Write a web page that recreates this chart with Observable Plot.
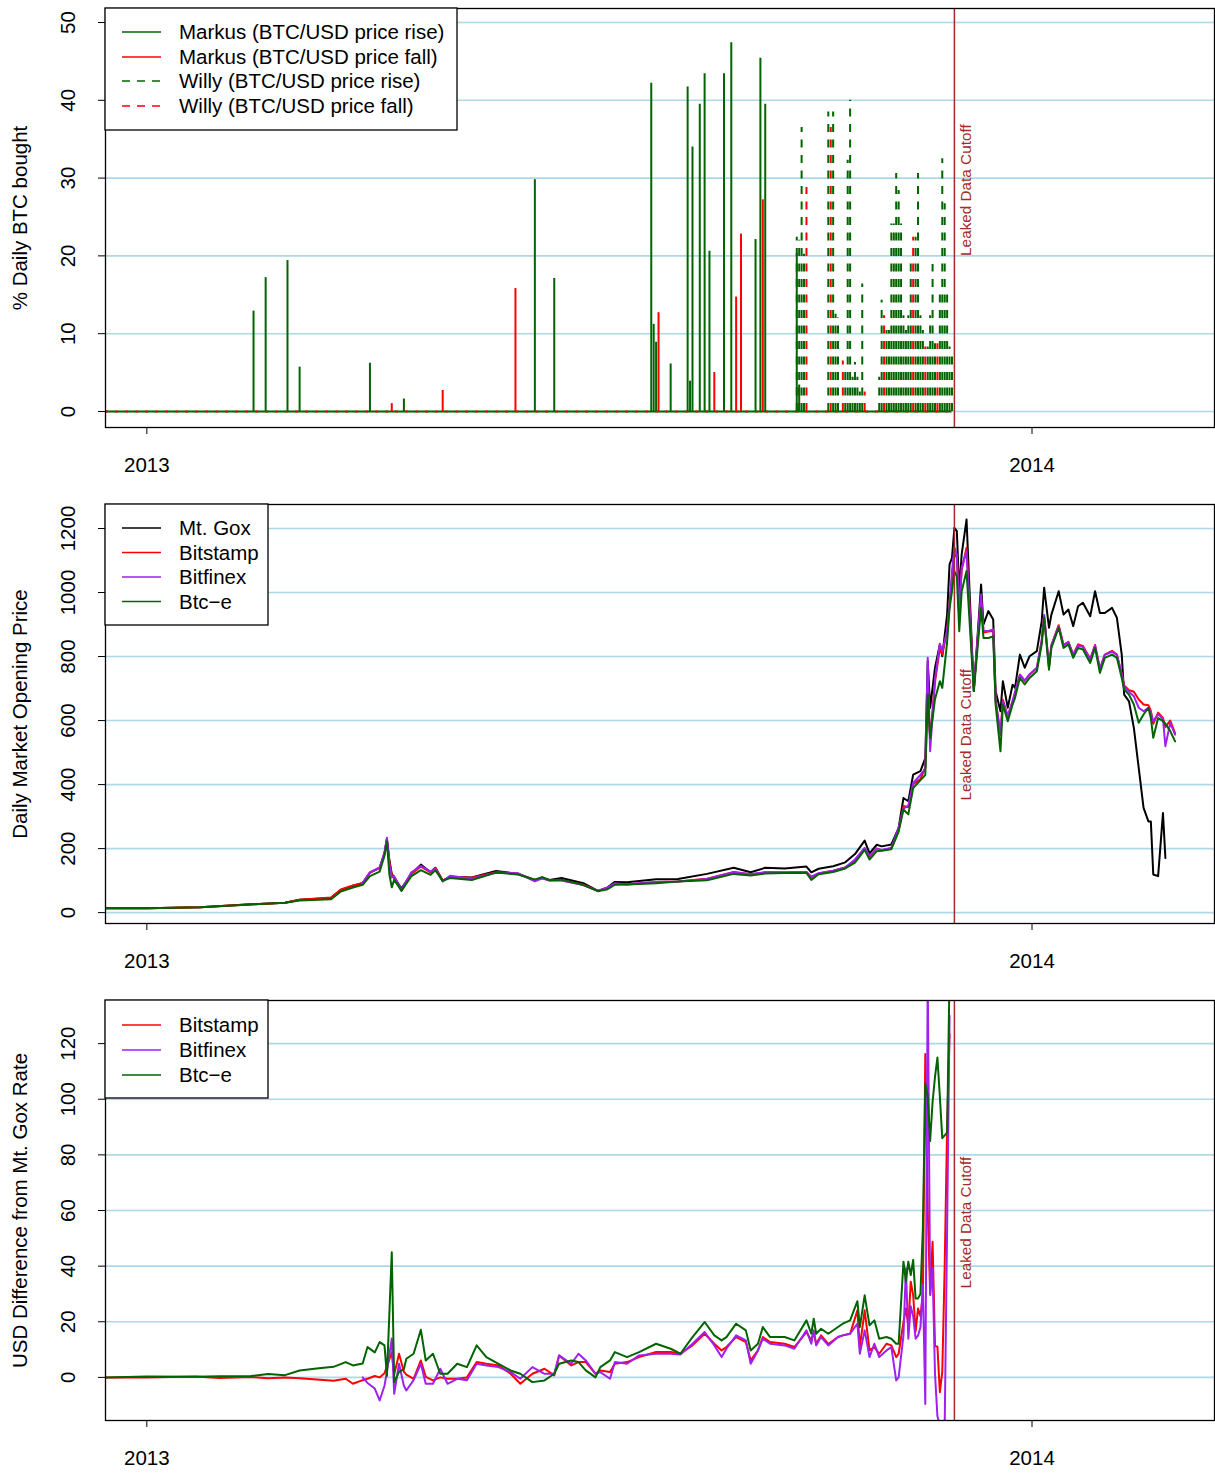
<!DOCTYPE html>
<html><head><meta charset="utf-8">
<script src="https://cdn.jsdelivr.net/npm/d3@7"></script>
<script src="https://cdn.jsdelivr.net/npm/@observablehq/plot@0.6"></script>
<style>
html,body{margin:0;padding:0;background:#fff;overflow:hidden;}
.panel{position:relative;width:1215px;}
.panel svg{display:block;max-width:none;}
.legend{position:absolute;left:0;top:0;}
</style></head><body>
<div id="chart"></div>
<script>
// ---------- Panel 1: % daily BTC bought ----------
const markusRiseDates = ["2013-02-14","2013-02-19","2013-02-28","2013-03-05","2013-04-03","2013-04-17","2013-06-10","2013-06-18","2013-07-28","2013-07-29","2013-07-30","2013-08-05","2013-08-12","2013-08-13","2013-08-14","2013-08-17","2013-08-19","2013-08-21","2013-08-27","2013-08-30","2013-09-09","2013-09-11","2013-09-13","2013-09-26","2013-09-27"];
const markusRiseValues = [12.9,17.2,19.4,5.7,6.2,1.6,29.8,17.1,42.2,11.2,8.9,6.1,41.7,3.9,34.0,39.5,43.4,20.6,43.4,47.4,22.1,45.4,39.5,20.3,3.4];
const markusFallDates = ["2013-04-12","2013-05-03","2013-06-02","2013-07-31","2013-08-23","2013-09-01","2013-09-03","2013-09-12"];
const markusFallValues = [1.0,2.7,15.8,12.7,5.0,14.7,22.8,27.2];
const willyRiseDates = ["2013-09-26","2013-09-27","2013-09-28","2013-09-29","2013-10-09","2013-10-11","2013-10-12","2013-10-13","2013-10-16","2013-10-17","2013-10-18","2013-10-19","2013-10-20","2013-10-21","2013-10-22","2013-10-23","2013-10-30","2013-10-31","2013-11-02","2013-11-03","2013-11-04","2013-11-05","2013-11-06","2013-11-07","2013-11-08","2013-11-09","2013-11-10","2013-11-11","2013-11-12","2013-11-14","2013-11-15","2013-11-16","2013-11-17","2013-11-19","2013-11-20","2013-11-21","2013-11-22","2013-11-24","2013-11-25","2013-11-26","2013-11-27","2013-11-28","2013-11-29"];
const willyRiseValues = [22.4,22,36.5,20.2,38.5,38.5,12.5,12,5,32.3,40,4.4,6.3,4.4,2.5,16.4,4.4,14.3,10.4,10.4,24.1,24.1,30.6,28.4,24.1,12.3,10.4,12.3,19.3,22.4,30.6,12.3,10.4,8.3,12.3,18.9,8.7,15.6,32.5,26.7,15,8.3,7.5];
const willyFallDates = ["2013-09-30","2013-10-10","2013-10-15","2013-10-24","2013-11-01","2013-11-13","2013-11-18","2013-11-23"];
const willyFallValues = [28.8,36.5,6.5,2.5,12.3,22.4,8.3,8.7];
const baselineRange = ["2012-12-15","2013-11-29"];

// ---------- Panel 2: daily market opening price ----------
const priceDates = ["2012-12-15","2013-01-01","2013-01-23","2013-02-13","2013-02-27","2013-03-05","2013-03-18","2013-03-22","2013-03-27","2013-03-31",
"2013-04-03","2013-04-07","2013-04-09","2013-04-10","2013-04-11","2013-04-12","2013-04-13","2013-04-16","2013-04-20","2013-04-24",
"2013-04-28","2013-04-30","2013-05-03","2013-05-06","2013-05-15","2013-05-25","2013-06-03","2013-06-10","2013-06-13","2013-06-16",
"2013-06-21","2013-06-30","2013-07-06","2013-07-10","2013-07-13","2013-07-18","2013-07-30","2013-08-08","2013-08-20","2013-08-31",
"2013-09-07","2013-09-13","2013-09-21","2013-09-30","2013-10-02","2013-10-05","2013-10-11","2013-10-16","2013-10-20","2013-10-24",
"2013-10-26","2013-10-29","2013-10-31","2013-11-04","2013-11-07","2013-11-09","2013-11-11","2013-11-13","2013-11-16","2013-11-18",
"2013-11-19","2013-11-20","2013-11-22","2013-11-24","2013-11-25","2013-11-27","2013-11-28","2013-11-29","2013-11-30","2013-12-01",
"2013-12-02","2013-12-03","2013-12-05","2013-12-08","2013-12-11","2013-12-12","2013-12-14","2013-12-16","2013-12-17","2013-12-19",
"2013-12-20","2013-12-22","2013-12-24","2013-12-25","2013-12-27","2013-12-29","2013-12-31","2014-01-03","2014-01-05","2014-01-06",
"2014-01-08","2014-01-09","2014-01-12","2014-01-14","2014-01-16","2014-01-18","2014-01-20","2014-01-22","2014-01-25","2014-01-27",
"2014-01-29","2014-01-31","2014-02-03","2014-02-05","2014-02-07","2014-02-08","2014-02-10","2014-02-12","2014-02-14","2014-02-16",
"2014-02-18","2014-02-19","2014-02-20","2014-02-22","2014-02-24","2014-02-25","2014-02-27","2014-03-01"];
const mtgoxPrice = [13.5,13.5,17,26,31,40,46,71,84,92,
125,140,185,230,165,121,110,75,121,150,
126,140,100,112,110,130,121,102,110,102,
108,92,68,79,96,95,104,105,121,140,
126,140,138,144,126,137,145,157,183,225,
185,212,207,213,265,358,348,431,442,483,
786,640,765,838,801,931,1088,1108,1202,1192,
1004,1119,1228,692,1025,900,942,916,692,629,
723,640,712,702,806,765,801,817,910,1015,
890,931,1004,931,947,895,957,968,926,1004,
936,936,952,921,806,681,660,577,452,327,
285,285,119,114,311,171,null,null];
const bitstampPrice = [13.5,13.5,17,26,31,40.5,47,72,85,93,
125,140,184,228,160,117,108,70,120,144,
126,140,99,112,109,126,122,101,107,101,
101,87,68,77,91,88,96,97,106,127,
119,126,125,127,110,122,131,141,163,201,
175,200,195,201,257,333,329,401,417,453,
672,545,720,826,806,880,965,1040,1120,1110,
952,1070,1140,700,985,875,878,880,665,555,
665,612,662,685,742,724,743,764,848,928,
768,836,898,836,846,806,838,833,793,836,
762,806,818,806,746,710,695,690,666,650,
648,630,590,625,608,580,600,560];
const bitfinexPrice = [null,null,null,null,null,null,null,null,null,92,
126,141,188,234,150,110,114,70,125,146,
128,137,97,115,106,125,123,98,107,100,
100,86,68,79,91,89,96,97,105,126,
121,126,126,127,112,123,131,141,166,202,
178,200,196,202,266,325,334,405,430,450,
796,504,730,840,817,880,960,1067,1140,1119,
930,1077,1129,700,994,880,880,885,660,560,
660,615,660,690,744,725,745,765,850,930,
770,835,895,835,845,805,835,830,790,835,
760,805,815,805,745,705,690,676,640,629,
640,625,598,620,605,520,593,556];
const btcePrice = [13.3,13.3,16.8,25.5,30.5,38,42,66,78,87,
114,128,178,222,120,79,103,68,113,133,
118,132,99,108,102,125,119,103,111,101,
103,86,67,73,87,88,92,97,101,121,
116,122,124,124,102,120,127,138,156,196,
166,192,193,198,253,322,307,389,414,430,
681,546,667,723,702,845,950,1004,1067,1050,
879,1004,1067,692,952,858,858,863,650,504,
650,598,650,671,733,713,733,754,838,921,
759,827,890,827,838,796,827,822,780,827,
749,796,806,796,733,697,681,650,593,619,
640,608,546,608,598,590,567,535];

// ---------- Panel 3: USD difference from Mt. Gox rate ----------
const diffDates = ["2012-12-15","2013-01-01","2013-01-21","2013-01-31","2013-02-13","2013-02-20","2013-02-27","2013-03-05","2013-03-12","2013-03-19",
"2013-03-24","2013-03-27","2013-03-31","2013-04-02","2013-04-05","2013-04-07","2013-04-09","2013-04-10","2013-04-12","2013-04-13",
"2013-04-15","2013-04-17","2013-04-18","2013-04-21","2013-04-24","2013-04-26","2013-04-29","2013-05-02","2013-05-05","2013-05-09",
"2013-05-13","2013-05-17","2013-05-21","2013-05-26","2013-05-31","2013-06-04","2013-06-09","2013-06-14","2013-06-18","2013-06-20",
"2013-06-25","2013-06-28","2013-07-01","2013-07-05","2013-07-07","2013-07-11","2013-07-13","2013-07-18","2013-07-23","2013-07-30",
"2013-08-05","2013-08-09","2013-08-14","2013-08-19","2013-08-23","2013-08-26","2013-08-28","2013-09-01","2013-09-05","2013-09-07",
"2013-09-10","2013-09-12","2013-09-15","2013-09-21","2013-09-25","2013-09-30","2013-10-02","2013-10-03","2013-10-04","2013-10-06",
"2013-10-09","2013-10-13","2013-10-15","2013-10-18","2013-10-21","2013-10-22","2013-10-24","2013-10-26","2013-10-28","2013-10-30",
"2013-11-02","2013-11-04","2013-11-06","2013-11-07","2013-11-09","2013-11-10","2013-11-11","2013-11-12","2013-11-13","2013-11-14",
"2013-11-15","2013-11-16","2013-11-17","2013-11-18","2013-11-19","2013-11-20","2013-11-21","2013-11-22","2013-11-23","2013-11-24",
"2013-11-25","2013-11-26","2013-11-27","2013-11-28"];
const bitstampDiff = [0,0,0.3,-0.2,0.1,-0.3,0,-0.3,-0.8,-1.2,
-0.5,-2.3,-1,-0.5,0.5,0,1.5,4,9,1,
8.5,2,1,-0.5,6.1,0.2,-1.1,0,-0.5,-0.5,
0,5.5,4.9,4.3,1.3,-2.3,1.3,3.1,0.7,7.9,
4.3,5.5,5.5,1.3,2.5,1.9,4.9,5.5,7.3,9.1,
9.1,8.5,11.5,15.7,12.1,9.7,10.9,14.5,12.7,6.1,
9.7,14.5,12.7,12.1,10.9,16.3,13.3,16.3,12,15.1,
12,14.5,15.1,15.7,24.1,10.9,24.1,9.7,10.9,8.5,
12.1,11.5,7.3,8.5,19.9,24.8,18.7,34.4,29.6,16.5,
24.8,22,29.6,116.3,60,30,48.8,11.3,11,-5.3,
2,40,90,123.5];
const bitfinexDiff = [null,null,null,null,null,null,null,null,null,null,
null,null,0,-2,-4,-8.3,-3,2,14,-5.9,
4.9,-3,-4.7,-1,4.9,-2.3,-2.3,3.1,-2.3,-0.5,
-1,4.9,4.3,3.7,1.9,-0.5,3.7,1.3,1.3,7.9,
4.9,8.5,6.1,1.3,1.9,-0.5,5.5,4.9,7.9,8.5,
8.5,8.2,12.1,16.3,11.5,7.3,10.3,15.1,13.3,4.9,
9.7,13.9,12.1,11.5,10.3,16.9,12.1,16.9,11.5,14.5,
11.5,14.5,15.1,15.7,19.3,8.5,16.9,7.3,12.1,7.3,
9.7,10.9,-1.1,0,15.1,39.2,13.9,25.6,22,13.9,
15,18,33.2,-9.6,145,29.6,39.2,1.2,-14,-17,
-17,-17,53.6,130];
const btceDiff = [0,0.3,0.2,0.4,0.5,1.2,0.8,2.5,3.2,3.8,
5.5,4.3,5,10.9,9,12.7,11.5,0.5,45,-1.7,
2,3,6.7,8.5,17.1,6.1,8.5,1.3,1.3,4.9,
3.7,11.5,7.3,4.9,2.5,1.3,-1.7,-1.1,1.3,4.9,
6.1,5.5,2.5,0,3.7,6.1,9.1,7.3,9.1,12.1,
10.3,8.5,14.5,19.9,15.1,13.3,14.5,19.3,16.9,9.7,
12.1,18.1,14.5,14.5,13.3,20.5,15.7,21.1,15.7,17.5,
15.7,18.1,19.3,20.5,27.4,18.1,29.5,18.7,20.5,13.9,
14.5,13.9,12.1,12.1,41.6,34.4,41.6,36.8,42.2,28.4,
28.4,30,53.6,105.5,101,85,99,108,115,101,
86,87,88,145];

// ---------- shared labels / ticks ----------
const cutoffDate = "2013-11-30";
const cutoffLabel = "Leaked Data Cutoff";
const xTickDates = ["2013-01-01","2014-01-01"];
const panel1Ticks = [0,10,20,30,40,50];
const panel2Ticks = [0,200,400,600,800,1000,1200];
const panel3Ticks = [0,20,40,60,80,100,120];
const panelTitles = ["% Daily BTC bought","Daily Market Opening Price","USD Difference from Mt. Gox Rate"];
const legend1Labels = ["Markus (BTC/USD price rise)","Markus (BTC/USD price fall)","Willy (BTC/USD price rise)","Willy (BTC/USD price fall)"];
const legend2Labels = ["Mt. Gox","Bitstamp","Bitfinex","Btc\u2212e"];
const legend3Labels = ["Bitstamp","Bitfinex","Btc\u2212e"];

// ---------- rendering ----------
const parse = d3.utcParse("%Y-%m-%d");
const FONT = "'Liberation Sans', Arial, Helvetica, sans-serif";
const GREEN = "#006400", RED = "#ff0000", PURPLE = "#a020f0", BLACK = "#000000", BROWN = "#a52a2a", GRID = "#add8e6";
const xDomain = [new Date(Date.UTC(2012, 11, 14, 23)), new Date(Date.UTC(2014, 2, 17, 6))];
const cutoff = parse(cutoffDate);
const xTicks = xTickDates.map(parse);
const zip = (dates, values) => dates.map((d, i) => ({date: parse(d), value: values[i]}));

function panel({height, marginBottom, yDomain, yTicks, title, marks, cutoffY, legend}) {
  const plot = Plot.plot({
    width: 1215, height,
    marginLeft: 105, marginRight: 1, marginTop: 8, marginBottom,
    style: {fontFamily: FONT, fontSize: "20.5px", background: "white", color: "black", overflow: "visible"},
    x: {type: "utc", domain: xDomain},
    y: {domain: yDomain},
    marks: [
      Plot.ruleY(yTicks, {stroke: GRID, strokeWidth: 1.6}),
      ...marks,
      Plot.ruleX([cutoff], {stroke: BROWN, strokeWidth: 1.5}),
      Plot.text([{d: cutoff, v: cutoffY, t: cutoffLabel}], {x: "d", y: "v", text: "t", rotate: -90, textAnchor: "start", lineAnchor: "middle", dx: 12, fill: BROWN, fontSize: 15.3, fontFamily: FONT}),
      Plot.frame({stroke: "black", strokeWidth: 1.3}),
      Plot.axisY({ticks: yTicks, tickSize: 7, tickFormat: () => "", label: null}),
      Plot.text(yTicks, {y: d => d, frameAnchor: "left", textAnchor: "middle", lineAnchor: "middle", dx: -37, rotate: -90, text: d => String(d), fontSize: 20.5, fontFamily: FONT}),
      Plot.text([title], {frameAnchor: "left", textAnchor: "middle", lineAnchor: "middle", dx: -85, rotate: -90, text: d => d, fontSize: 20.5, fontFamily: FONT}),
      Plot.axisX({ticks: xTicks, tickSize: 7, tickFormat: () => "", label: null}),
      Plot.text(xTicks, {x: d => d, frameAnchor: "bottom", textAnchor: "middle", lineAnchor: "middle", dy: 38, text: d => String(d.getUTCFullYear()), fontSize: 20.5, fontFamily: FONT})
    ]
  });
  const div = document.createElement("div");
  div.className = "panel";
  div.style.height = height + "px";
  div.appendChild(plot);
  // legend overlay
  const {width, boxHeight, rows} = legend;
  const svg = d3.select(div).append("svg").attr("class", "legend")
    .attr("width", 110 + width).attr("height", boxHeight + 20);
  svg.append("rect").attr("x", 105).attr("y", 8).attr("width", width).attr("height", boxHeight)
    .attr("fill", "white").attr("stroke", "black").attr("stroke-width", 1.3);
  rows.forEach(r => {
    svg.append("line").attr("x1", 122).attr("x2", 161).attr("y1", r.y).attr("y2", r.y)
      .attr("stroke", r.color).attr("stroke-width", 1.6).attr("stroke-dasharray", r.dash || null);
    svg.append("text").attr("x", 179).attr("y", r.y).attr("dy", "0.36em")
      .attr("font-family", FONT).attr("font-size", "20.5px").attr("fill", "black").text(r.label);
  });
  document.getElementById("chart").appendChild(div);
}

// Panel 1
const bars = (dates, values) => zip(dates, values);
panel({
  height: 496, marginBottom: 69, yDomain: [-2.06, 51.8], yTicks: panel1Ticks, title: panelTitles[0], cutoffY: 20,
  marks: [
    Plot.ruleY([{y: 0, a: parse(baselineRange[0]), b: parse(baselineRange[1])}], {y: "y", x1: "a", x2: "b", stroke: GREEN, strokeWidth: 2}),
    Plot.ruleY([{y: 0, a: parse(baselineRange[0]), b: parse(baselineRange[1])}], {y: "y", x1: "a", x2: "b", stroke: RED, strokeWidth: 2, strokeDasharray: "3,7"}),
    Plot.ruleX(bars(markusRiseDates, markusRiseValues), {x: "date", y1: 0, y2: "value", stroke: GREEN, strokeWidth: 2}),
    Plot.ruleX(bars(markusFallDates, markusFallValues), {x: "date", y1: 0, y2: "value", stroke: RED, strokeWidth: 2}),
    Plot.ruleX(bars(willyRiseDates, willyRiseValues), {x: "date", y1: 0, y2: "value", stroke: GREEN, strokeWidth: 2, strokeDasharray: "8,7.5"}),
    Plot.ruleX(bars(willyFallDates, willyFallValues), {x: "date", y1: 0, y2: "value", stroke: RED, strokeWidth: 2, strokeDasharray: "8,7.5"})
  ],
  legend: {width: 352, boxHeight: 122, rows: [
    {y: 32, color: GREEN, label: legend1Labels[0]},
    {y: 57, color: RED, label: legend1Labels[1]},
    {y: 81, color: GREEN, dash: "8,7", label: legend1Labels[2]},
    {y: 106, color: RED, dash: "8,7", label: legend1Labels[3]}
  ]}
});

// Panel 2
const priceSeries = [[mtgoxPrice, BLACK], [bitstampPrice, RED], [bitfinexPrice, PURPLE], [btcePrice, GREEN]];
panel({
  height: 496, marginBottom: 69, yDomain: [-34, 1275], yTicks: panel2Ticks, title: panelTitles[1], cutoffY: 350,
  marks: priceSeries.map(([vals, color]) =>
    Plot.line(zip(priceDates, vals), {x: "date", y: "value", stroke: color, strokeWidth: 2, clip: true})),
  legend: {width: 163, boxHeight: 121, rows: [
    {y: 32, color: BLACK, label: legend2Labels[0]},
    {y: 56.5, color: RED, label: legend2Labels[1]},
    {y: 81, color: PURPLE, label: legend2Labels[2]},
    {y: 105.5, color: GREEN, label: legend2Labels[3]}
  ]}
});

// Panel 3
const diffSeries = [[bitstampDiff, RED], [bitfinexDiff, PURPLE], [btceDiff, GREEN]];
panel({
  height: 481, marginBottom: 53, yDomain: [-15.5, 135.5], yTicks: panel3Ticks, title: panelTitles[2], cutoffY: 32,
  marks: diffSeries.map(([vals, color]) =>
    Plot.line(zip(diffDates, vals), {x: "date", y: "value", stroke: color, strokeWidth: 2, clip: true})),
  legend: {width: 163, boxHeight: 98, rows: [
    {y: 33, color: RED, label: legend3Labels[0]},
    {y: 58, color: PURPLE, label: legend3Labels[1]},
    {y: 83, color: GREEN, label: legend3Labels[2]}
  ]}
});
</script>
</body></html>
